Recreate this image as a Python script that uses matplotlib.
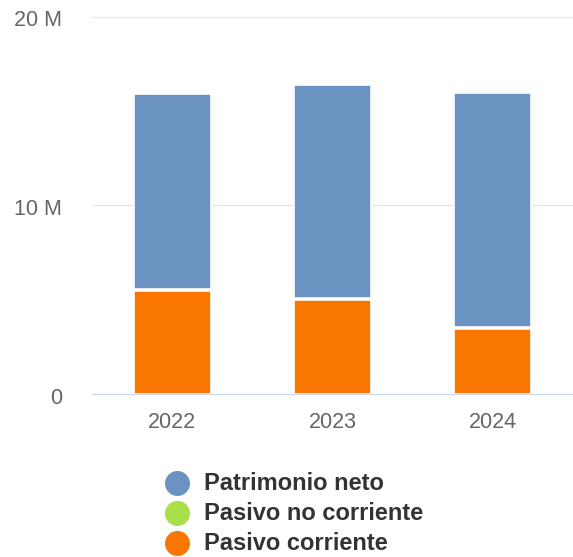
import numpy as np
import matplotlib.pyplot as plt
import matplotlib.transforms as mtransforms
from matplotlib.lines import Line2D
from matplotlib.ticker import FuncFormatter

plt.rcParams['font.family'] = ['Liberation Sans', 'DejaVu Sans']

# data (millions)
years = ['2022', '2023', '2024']
patrimonio_neto = [10.4, 11.35, 12.45]
pasivo_no_corriente = [0.0, 0.0, 0.0]
pasivo_corriente = [5.5, 5.0, 3.48]

series_names = ['Patrimonio neto', 'Pasivo no corriente', 'Pasivo corriente']
colors = ['#6b93c2', '#a8df4a', '#f97600']

W, H = 573, 557
fig = plt.figure(figsize=(W / 100, H / 100), dpi=100)
ax = fig.add_axes([92 / W, (H - 393.5) / H, (W - 92) / W, (393.5 - 16.5) / H])

x = np.arange(len(years))
bw = 0.48
corr = np.array(pasivo_corriente) * 1e6
nocorr = np.array(pasivo_no_corriente) * 1e6
neto = np.array(patrimonio_neto) * 1e6

ax.bar(x, corr, bw, color=colors[2], edgecolor='white', linewidth=1.2, zorder=3)
ax.bar(x, neto, bw, bottom=corr + nocorr, color=colors[0], edgecolor='white', linewidth=1.2, zorder=3)
# zero-height middle segment leaves the white gap between the stacks
ax.bar(x, nocorr, bw, bottom=corr, color=colors[1], edgecolor='white', linewidth=2.6, zorder=4)

ax.set_xlim(-0.5, len(years) - 0.5)
ax.set_ylim(0, 20e6)
ax.set_yticks([0, 10e6, 20e6])
ax.yaxis.set_major_formatter(FuncFormatter(lambda v, p: '0' if v == 0 else f'{v / 1e6:.0f} M'))
ax.set_xticks(x)
ax.set_xticklabels(years)

ax.grid(axis='y', color='#e6e6e6', linewidth=1, zorder=0)
for s in ['top', 'right', 'left']:
    ax.spines[s].set_visible(False)
ax.spines['bottom'].set_color('#ccd6eb')
ax.spines['bottom'].set_zorder(5)
ax.tick_params(axis='both', length=0, labelsize=15.5, colors='#666666')
ax.tick_params(axis='y', pad=21.5)
ax.tick_params(axis='x', pad=13)

shift = mtransforms.ScaledTranslation(0, -2 / 100, fig.dpi_scale_trans)
for lab in ax.get_yticklabels():
    lab.set_transform(lab.get_transform() + shift)

# legend
rows_y = [483, 513, 543]
for name, col, yy in zip(series_names, colors, rows_y):
    fig.add_artist(Line2D([177 / W], [1 - yy / H], transform=fig.transFigure, marker='o',
                          markersize=17, color=col, linestyle='none'))
    fig.text(204 / W, 1 - yy / H, name, fontsize=17, fontweight='bold', color='#333333',
             va='center', ha='left')

fig.savefig('out.png', dpi=100)
